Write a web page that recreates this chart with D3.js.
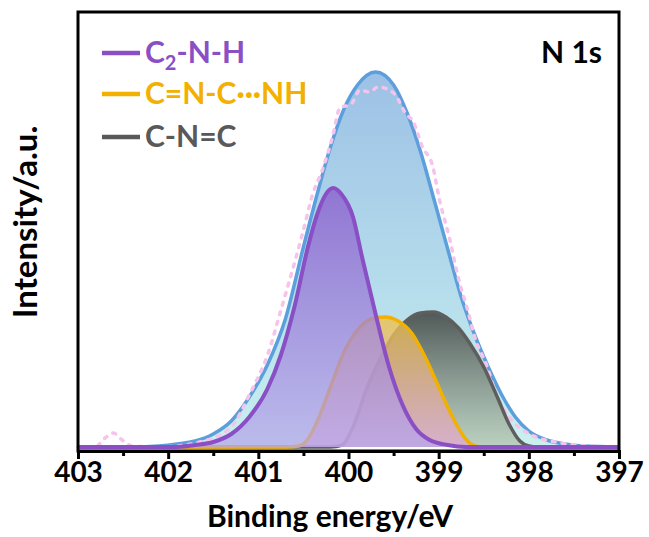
<!DOCTYPE html>
<html>
<head>
<meta charset="utf-8">
<script src="https://cdn.jsdelivr.net/npm/d3@7"></script>
<style>
  body { margin: 0; background: #fff; }
  svg { display: block; font-family: Lato, "Open Sans", sans-serif; font-weight: bold; }
</style>
</head>
<body>
<div id="chart"></div>
<script>
// binding energy (eV), intensity (a.u.)
const rawData = [
  [403.00, 0], [402.81, 0], [402.70, 9], [402.61, 14], [402.51, 7], [402.40, 1], [402.09, 0],
  [401.65, 5], [401.31, 19], [401.09, 54], [400.89, 94], [400.74, 140], [400.59, 187],
  [400.50, 217], [400.40, 252], [400.29, 277], [400.18, 309], [400.09, 340], [399.98, 342],
  [399.87, 357], [399.77, 355], [399.67, 360], [399.57, 358], [399.48, 352], [399.37, 334],
  [399.28, 325], [399.18, 300], [399.07, 282], [398.99, 247], [398.87, 205], [398.79, 172],
  [398.67, 134], [398.60, 110], [398.46, 80], [398.38, 57], [398.21, 29], [397.99, 13],
  [397.65, 4], [397.32, 1], [397.00, 0]
]
const envelopeData = [
  [403.00, 0], [402.40, 0], [402.10, 1], [401.90, 3], [401.70, 6], [401.50, 13], [401.30, 26],
  [401.10, 50], [400.90, 82], [400.70, 128], [400.50, 200], [400.35, 252], [400.20, 300],
  [400.05, 338], [399.90, 362], [399.70, 375], [399.50, 362], [399.35, 334], [399.20, 295],
  [399.05, 247], [398.90, 198], [398.75, 150], [398.60, 112], [398.45, 80], [398.30, 52],
  [398.15, 30], [398.00, 16], [397.80, 7], [397.60, 3], [397.40, 1], [397.00, 0]
]
const c2nhData = [
  [403.00, 0], [401.90, 0], [401.70, 2], [401.50, 5], [401.30, 13], [401.10, 30], [400.90, 58],
  [400.75, 92], [400.60, 140], [400.45, 200], [400.35, 232], [400.25, 253], [400.17, 259],
  [400.08, 253], [399.95, 230], [399.85, 190], [399.70, 133], [399.55, 80], [399.40, 42],
  [399.25, 18], [399.10, 7], [398.90, 2], [398.70, 0], [397.00, 0]
]
const cncnhData = [
  [403.00, 0], [400.70, 0], [400.55, 1], [400.45, 8], [400.35, 25], [400.20, 60], [400.05, 95],
  [399.90, 117], [399.75, 128], [399.60, 130], [399.45, 126], [399.30, 114], [399.15, 90],
  [399.00, 60], [398.90, 40], [398.80, 22], [398.70, 8], [398.60, 1], [398.50, 0], [397.00, 0]
]
const cncData = [
  [403.00, 0], [400.20, 0], [400.07, 2], [399.95, 20], [399.80, 58], [399.65, 88], [399.50, 112],
  [399.35, 127], [399.20, 134], [399.06, 135], [398.92, 130], [398.78, 119], [398.65, 103],
  [398.50, 80], [398.35, 50], [398.22, 23], [398.10, 6], [398.00, 1], [397.90, 0], [397.00, 0]
]
const majorTicks = [403, 402, 401, 400, 399, 398, 397]
const minorTicks = [402.5, 401.5, 400.5, 399.5, 398.5, 397.5]
const legendNames = ["C-N-H", "C=N-C\u00b7\u00b7\u00b7NH", "C-N=C"]
const legendColors = ["#8a4fc4", "#f2b000", "#595959"]

const width = 649, height = 537
const margin = {top: 12, right: 30, bottom: 86, left: 78}

const svg = d3.select("#chart").append("svg")
  .attr("width", width)
  .attr("height", height)

const x = d3.scaleLinear().domain([403, 397]).range([margin.left, width - margin.right])
const y = d3.scaleLinear().domain([-4, 435]).range([height - margin.bottom, margin.top])

const defs = svg.append("defs")
function grad(id, stops) {
  const g = defs.append("linearGradient").attr("id", id)
    .attr("x1", 0).attr("y1", 0).attr("x2", 0).attr("y2", 1)
  stops.forEach(s => g.append("stop").attr("offset", s[0]).attr("stop-color", s[1]).attr("stop-opacity", s[2]))
}
grad("gEnv", [[0, "#9cc1e6", 1], [1, "#c8f1ef", 1]])
grad("gPur", [[0, "#8a5fcc", 0.8], [1, "#b6a4ea", 0.7]])
grad("gOra", [[0, "#eec24a", 0.8], [1, "#e6a0d2", 0.65]])
grad("gGry", [[0, "#4a5250", 0.95], [1, "#b4c2ac", 0.7]])

const line = d3.line().x(d => x(d[0])).y(d => y(d[1])).curve(d3.curveMonotoneX)
const area = d3.area().x(d => x(d[0])).y0(y(0)).y1(d => y(d[1])).curve(d3.curveMonotoneX)

const plot = svg.append("g")

function peak(data, fill, stroke, w) {
  plot.append("path").datum(data).attr("d", area).attr("fill", fill)
  plot.append("path").datum(data).attr("d", line)
    .attr("fill", "none").attr("stroke", stroke).attr("stroke-width", w)
    .attr("stroke-linejoin", "round")
}

peak(envelopeData, "url(#gEnv)", "#5b9fdc", 3.5)

// raw spectrum, pink dotted
plot.append("path").datum(rawData).attr("d", line)
  .attr("fill", "none")
  .attr("stroke", "#f6c3ea")
  .attr("stroke-width", 3.5)
  .attr("stroke-linecap", "round")
  .attr("stroke-dasharray", "3,7")

peak(cncData, "url(#gGry)", "#5e5e5e", 3.5)
peak(cncnhData, "url(#gOra)", "#f2b000", 3.5)
peak(c2nhData, "url(#gPur)", "#8a4fc4", 4)

// frame
svg.append("rect")
  .attr("x", margin.left).attr("y", margin.top)
  .attr("width", width - margin.left - margin.right)
  .attr("height", height - margin.top - margin.bottom)
  .attr("fill", "none").attr("stroke", "#000").attr("stroke-width", 3)

const gx = svg.append("g").attr("transform", `translate(0,${height - margin.bottom})`)
gx.call(d3.axisBottom(x).tickValues(majorTicks).tickSize(8).tickPadding(3).tickFormat(d3.format("d")))
gx.append("g").call(d3.axisBottom(x).tickValues(minorTicks).tickSize(5).tickFormat(""))
gx.selectAll("path.domain").attr("stroke", "#000").attr("stroke-width", 3)
gx.selectAll(".tick line").attr("stroke", "#000").attr("stroke-width", 3)
gx.selectAll(".tick text")
  .attr("fill", "#000")
  .attr("font-size", 28)
  .attr("font-family", "Lato, 'Open Sans', sans-serif")
  .attr("font-weight", "bold")

svg.append("text")
  .attr("x", 330).attr("y", 527)
  .attr("text-anchor", "middle")
  .attr("font-size", 30)
  .text("Binding energy/eV")

svg.append("text")
  .attr("transform", "translate(37,222) rotate(-90)")
  .attr("text-anchor", "middle")
  .attr("font-size", 33)
  .text("Intensity/a.u.")

svg.append("text")
  .attr("x", 602).attr("y", 63)
  .attr("text-anchor", "end")
  .attr("font-size", 30)
  .text("N 1s")

// legend
const legendY = [53, 94, 137]
const legend = svg.append("g")
legendNames.forEach((name, i) => {
  legend.append("line")
    .attr("x1", 102).attr("x2", 140)
    .attr("y1", legendY[i]).attr("y2", legendY[i])
    .attr("stroke", legendColors[i]).attr("stroke-width", 4.5)
  const t = legend.append("text")
    .attr("x", 145).attr("y", legendY[i] + 10)
    .attr("font-size", 30)
    .attr("fill", legendColors[i])
  if (i === 0) {
    t.append("tspan").text("C")
    t.append("tspan").attr("font-size", 20).attr("dy", 7).text("2")
    t.append("tspan").attr("dy", -7).text("-N-H")
  } else {
    t.text(name)
  }
})
</script>
</body>
</html>
